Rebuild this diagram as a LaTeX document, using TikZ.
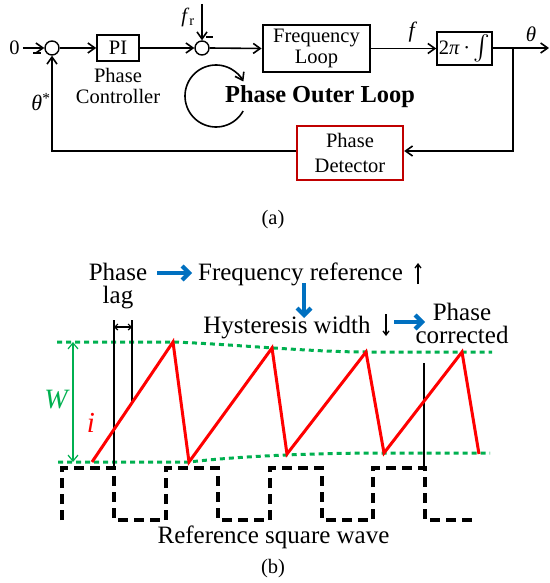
\documentclass[tikz,border=0pt]{standalone}
\usepackage{amsmath}
\usepackage{fontspec}
\setmainfont{Liberation Serif}
\usetikzlibrary{arrows.meta}
\definecolor{pdred}{RGB}{192,0,0}
\definecolor{sigred}{RGB}{255,0,0}
\definecolor{envgreen}{RGB}{0,176,80}
\definecolor{stepblue}{RGB}{0,112,192}
\tikzset{
  txt/.style={font=\fontsize{20.5}{21}\selectfont, inner sep=0pt},
  txtb/.style={font=\fontsize{25}{23}\selectfont, inner sep=0pt},
  blk/.style={draw, line width=1.6pt, inner sep=0pt, txt},
  sumc/.style={circle, draw, line width=1.4pt, minimum size=14pt, inner sep=0pt},
  sig/.style={line width=1.6pt, -{Straight Barb[length=7pt,width=10pt,line width=1.6pt]}},
  smallarr/.style={line width=1.3pt, -{Straight Barb[length=4pt,width=6pt,line width=1.3pt]}},
  bluearr/.style={draw=stepblue, line width=4.2pt, -{Straight Barb[length=7pt,width=14pt,line width=4.2pt]}},
  env/.style={draw=envgreen, line width=3pt, dash pattern=on 5pt off 4pt},
  sqw/.style={draw=black, line width=3.2pt, dash pattern=on 10pt off 6pt},
  ramp/.style={draw=sigred, line width=3pt, line join=miter},
  thinln/.style={line width=1.6pt}
}
\begin{document}
\begin{tikzpicture}[x=1pt,y=-1pt]
\useasboundingbox (0,0) rectangle (549,583);

% ---------------- (a) block diagram ----------------
\node[txt] (zero) at (14.5,48) {0};
\node[sumc] (s1) at (52,48) {};
\node[blk, minimum width=42pt, minimum height=26pt] (pi) at (118,48) {PI};
\node[txt, align=center] (pclab) at (118,86) {Phase\\Controller};
\node[sumc] (s2) at (202,48) {};
\node[txt] (fr) at (188,17) {\textit{f}\textsubscript{r}};
\coordinate (frtop) at (202,4);
\node[blk, line width=2.8pt, minimum width=107pt, minimum height=47pt, align=center] (fl) at (316.5,48.5) {Frequency\\Loop};
\node[blk, minimum width=55pt, minimum height=33pt] (int) at (464.5,48.5) {2\textit{π}\,·\,{\fontsize{24}{24}\selectfont$\int$}};
\node[txt, font=\fontsize{22}{22}\selectfont] (flab) at (413,32) {\textit{f}};
\node[txt, font=\fontsize{21}{21}\selectfont] (thlab) at (531,34) {\textit{θ}};
\coordinate (out) at (549,48);
\coordinate (br) at (513,48);
\coordinate (brd) at (513,151);
\node[blk, draw=pdred, line width=2.4pt, minimum width=106pt, minimum height=54pt, align=center, font=\fontsize{20.5}{25}\selectfont] (pd) at (350,153) {Phase\\Detector};
\coordinate (fbc) at (52,151);
\node[txt, font=\fontsize{22}{22}\selectfont] (thstar) at (41,102) {\textit{θ}\textsuperscript{*}};
\node[inner sep=0pt, font=\fontsize{24.4}{26}\selectfont\bfseries] (pol) at (320,97) {Phase Outer Loop};
\coordinate (loopc) at (216,96);

\draw[sig] (zero.east) ++(3,0) -- (s1.west);
\draw[sig] (s1.east) -- (pi.west);
\draw[sig] (pi.east) -- (s2.west);
\draw[sig] (frtop) -- (s2.north);
\draw[sig] (s2.east) -- (fl.west);
\draw[sig] (fl.east) -- (fl.east -| int.west);
\draw[sig] (int.east |- out) -- (out);
\draw[sig] (br) -- (brd) -- (brd -| pd.east);
\draw[sig] (pd.west |- fbc) -- (fbc) -- (s1.south);
\draw[thinln] (33,53) -- (41,53);
\draw[thinln] (206,37) -- (213,37);
\draw[sig] ([shift={(-29:31pt)}]loopc) arc[start angle=-29, end angle=-332, radius=31pt];

\node[txt] (capa) at (273,220) {(a)};

% ---------------- (b) waveforms ----------------
\node[txtb, align=center] (plag) at (118,286) {Phase\\lag};
\node[txtb, anchor=base] (freqref) at (300.5,280) {Frequency reference};
\node[txtb, anchor=base] (hyst) at (287,333) {Hysteresis width};
\node[txtb, align=center] (pcorr) at (462,323) {Phase\\corrected};
\node[txtb, anchor=base] (refsq) at (273.5,543) {Reference square wave};
\node[txt] (capb) at (273,569) {(b)};

\coordinate (b1s) at (157,273); \coordinate (b1e) at (192,273);
\coordinate (b2s) at (304,283); \coordinate (b2e) at (304,318);
\coordinate (b3s) at (394,322); \coordinate (b3e) at (425,322);
\draw[bluearr] (b1s) -- (b1e);
\draw[bluearr] (b2s) -- (b2e);
\draw[bluearr] (b3s) -- (b3e);
\coordinate (upa) at (418,284); \coordinate (upb) at (418,263);
\coordinate (dna) at (386,314); \coordinate (dnb) at (386,336);
\draw[smallarr] (upa) -- (upb);
\draw[smallarr] (dna) -- (dnb);

% envelopes
\draw[env] (57,342) -- (173,342) .. controls (230,344) and (310,352) .. (366,352) -- (492,352);
\draw[env] (58,462) -- (189,462) .. controls (250,455) and (330,453) .. (384,453) -- (490,453);
\coordinate (wt) at (73,342); \coordinate (wb) at (73,462);
\draw[draw=envgreen, line width=1.2pt, {Straight Barb[length=6pt,width=10pt,line width=1.2pt]}-{Straight Barb[length=6pt,width=10pt,line width=1.2pt]}] (wt) -- (wb);
\node[inner sep=0pt, text=envgreen, font=\fontsize{28}{28}\selectfont\itshape] (wlab) at (56,400) {W};
\node[inner sep=0pt, text=sigred, font=\fontsize{29}{29}\selectfont\itshape] (ilab) at (91,423) {i};

% phase lag markers
\draw[thinln] (114,320) -- (114,468);
\draw[thinln] (132,320) -- (132,402.5);
\draw[line width=1.2pt, {Straight Barb[length=3pt,width=6pt,line width=1.2pt]}-{Straight Barb[length=3pt,width=6pt,line width=1.2pt]}] (114,327) -- (132,327);

% square wave
\draw[sqw] (62,520) -- (62,468) -- (114,468) -- (114,520) -- (166,520) -- (166,468) -- (218,468) -- (218,520) -- (270,520) -- (270,468) -- (322,468) -- (322,520) -- (373,520) -- (373,468) -- (425,468) -- (425,520) -- (478,520);

% corrected marker
\draw[thinln] (424,363) -- (424,468);

% sawtooth current
\draw[ramp] (92,462) -- (173,342) -- (189,462) -- (272,348) -- (287,454) -- (366,352) -- (384,453) -- (462,352) -- (479,454);
\end{tikzpicture}
\end{document}
